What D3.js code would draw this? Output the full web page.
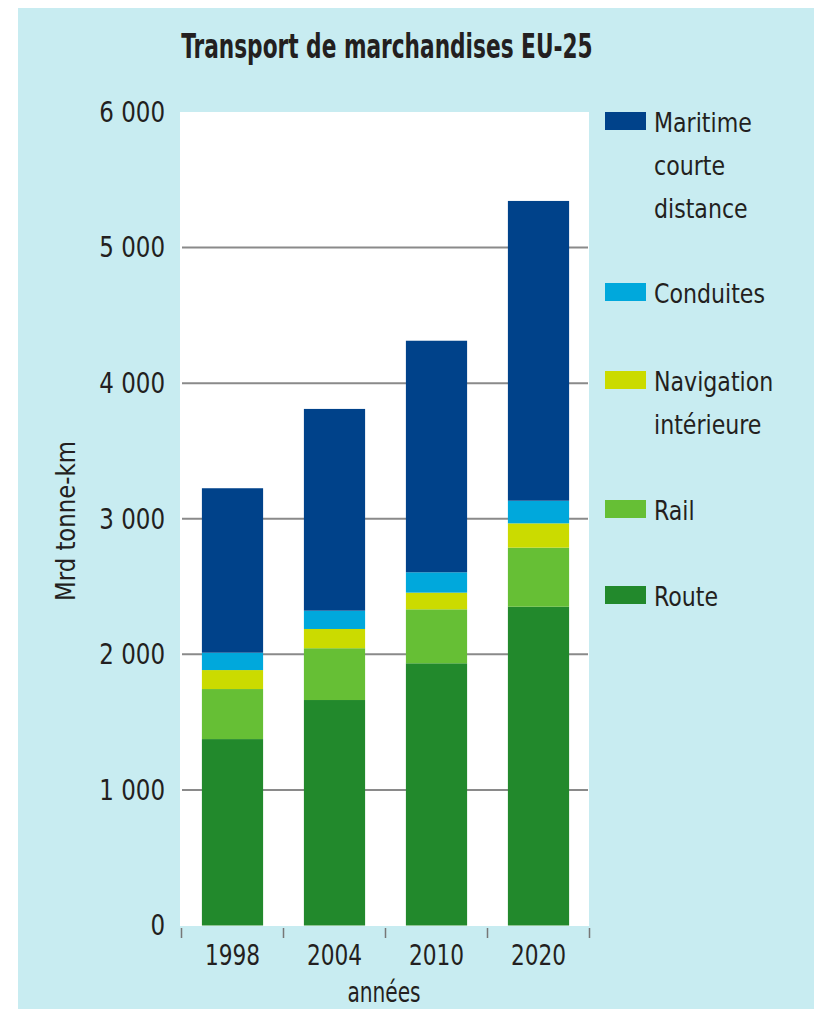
<!DOCTYPE html>
<html>
<head>
<meta charset="utf-8">
<script src="https://cdn.jsdelivr.net/npm/d3@7/dist/d3.min.js"></script>
<style>
  html, body { margin: 0; padding: 0; background: #ffffff; }
  svg { display: block; }
  text { font-family: "DejaVu Sans Condensed", "DejaVu Sans", sans-serif; fill: #231f20; }
</style>
</head>
<body>
<svg id="chart" width="814" height="1009"></svg>
<script>
// ---- Data ----
const years = ["1998", "2004", "2010", "2020"];
const seriesNames = ["Route", "Rail", "Navigation intérieure", "Conduites", "Maritime courte distance"];
const route     = [1375, 1663, 1934, 2351];
const rail      = [369, 382, 398, 436];
const navigation= [140, 142, 123, 179];
const conduites = [128, 135, 150, 167];
const maritime  = [1213, 1488, 1708, 2211];
const yTickValues = [0, 1000, 2000, 3000, 4000, 5000, 6000];
const yTickLabels = ["0", "1 000", "2 000", "3 000", "4 000", "5 000", "6 000"];
const legendLabels = [
  ["Maritime", "courte", "distance"],
  ["Conduites"],
  ["Navigation", "intérieure"],
  ["Rail"],
  ["Route"]
];
const title = "Transport de marchandises EU-25";
const yTitle = "Mrd tonne-km";
const xTitle = "années";

// ---- Styles ----
const colors = {
  "Route": "#22892c",
  "Rail": "#66bf35",
  "Navigation intérieure": "#cbdb00",
  "Conduites": "#00a8dc",
  "Maritime courte distance": "#00428a"
};

// condense text horizontally (reference uses a condensed typeface)
function condense(sel, factor) {
  sel.each(function () {
    const len = this.getComputedTextLength();
    d3.select(this).attr("textLength", len * factor).attr("lengthAdjust", "spacingAndGlyphs");
  });
}

const svg = d3.select("#chart");

// background
svg.append("rect").attr("x", 18).attr("y", 8).attr("width", 796).attr("height", 1001).attr("fill", "#c8ecf1");

const plot = { left: 180, right: 589, top: 112, bottom: 926 };
svg.append("rect").attr("x", plot.left).attr("y", plot.top)
  .attr("width", plot.right - plot.left).attr("height", plot.bottom - plot.top).attr("fill", "#ffffff");

const x = d3.scaleBand().domain(years).range([181.5, 589.5]).paddingInner(0.4).paddingOuter(0.2);
const y = d3.scaleLinear().domain([0, 6000]).range([925.5, 112]);

// gridlines
svg.append("g").selectAll("line").data(yTickValues.filter(v => v > 0 && v < 6000)).join("line")
  .attr("x1", 182).attr("x2", 588)
  .attr("y1", d => y(d)).attr("y2", d => y(d))
  .attr("stroke", "#8a8a8a").attr("stroke-width", 2);

// stacked data
const table = years.map((yr, i) => ({
  year: yr,
  "Route": route[i],
  "Rail": rail[i],
  "Navigation intérieure": navigation[i],
  "Conduites": conduites[i],
  "Maritime courte distance": maritime[i]
}));
const stacked = d3.stack().keys(seriesNames)(table);

svg.append("g").selectAll("g").data(stacked).join("g")
  .attr("fill", d => colors[d.key])
  .selectAll("rect").data(d => d).join("rect")
  .attr("x", d => x(d.data.year))
  .attr("width", x.bandwidth())
  .attr("y", d => y(d[1]))
  .attr("height", d => y(d[0]) - y(d[1]));

// y axis labels
const yAxis = d3.axisLeft(y).tickValues(yTickValues)
  .tickFormat((d, i) => yTickLabels[i]).tickSize(0).tickPadding(0);
const gy = svg.append("g").attr("transform", "translate(165,0)").call(yAxis);
gy.select(".domain").remove();
gy.selectAll("text").attr("font-size", 29).attr("fill", "#231f20")
  .style("font-family", '"DejaVu Sans Condensed", "DejaVu Sans", sans-serif');
condense(gy.selectAll("text"), 0.88);

// x ticks at band boundaries
const boundaries = years.map(yr => x(yr) - x.step() * x.paddingInner() / 2);
boundaries.push(x(years[years.length - 1]) + x.bandwidth() + x.step() * x.paddingInner() / 2);
svg.append("g").selectAll("line").data(boundaries).join("line")
  .attr("x1", d => d).attr("x2", d => d)
  .attr("y1", 928).attr("y2", 938)
  .attr("stroke", "#777777").attr("stroke-width", 1.5);

// x labels
const xAxis = d3.axisBottom(x).tickSize(0).tickPadding(0);
const gx = svg.append("g").attr("transform", "translate(0,965)").call(xAxis);
gx.select(".domain").remove();
gx.selectAll("text").attr("font-size", 29).attr("dy", 0).attr("fill", "#231f20")
  .style("font-family", '"DejaVu Sans Condensed", "DejaVu Sans", sans-serif');
condense(gx.selectAll("text"), 0.83);

// x title
const xt = svg.append("text").attr("x", 384).attr("y", 1002).attr("text-anchor", "middle")
  .attr("font-size", 28).text(xTitle);
condense(xt, 0.8);

// y title
const yt = svg.append("text").attr("transform", "translate(75,521) rotate(-90)")
  .attr("text-anchor", "middle").attr("font-size", 27).text(yTitle);
condense(yt, 0.94);

// title
const tt = svg.append("text").attr("x", 387).attr("y", 58).attr("text-anchor", "middle")
  .attr("font-size", 33).attr("font-weight", "bold").text(title);
condense(tt, 0.73);

// legend
const legendOrder = ["Maritime courte distance", "Conduites", "Navigation intérieure", "Rail", "Route"];
const legendTops = [112, 283, 371, 500, 586];
const lg = svg.append("g");
legendOrder.forEach((k, i) => {
  lg.append("rect").attr("x", 605).attr("y", legendTops[i]).attr("width", 41).attr("height", 18)
    .attr("fill", colors[k]);
  const t = lg.append("text").attr("x", 654).attr("y", legendTops[i] + 20).attr("font-size", 27);
  legendLabels[i].forEach((line, j) => {
    t.append("tspan").attr("x", 654).attr("dy", j === 0 ? 0 : 43).text(line);
  });
  condense(t.selectAll("tspan"), 0.91);
});
</script>
</body>
</html>
